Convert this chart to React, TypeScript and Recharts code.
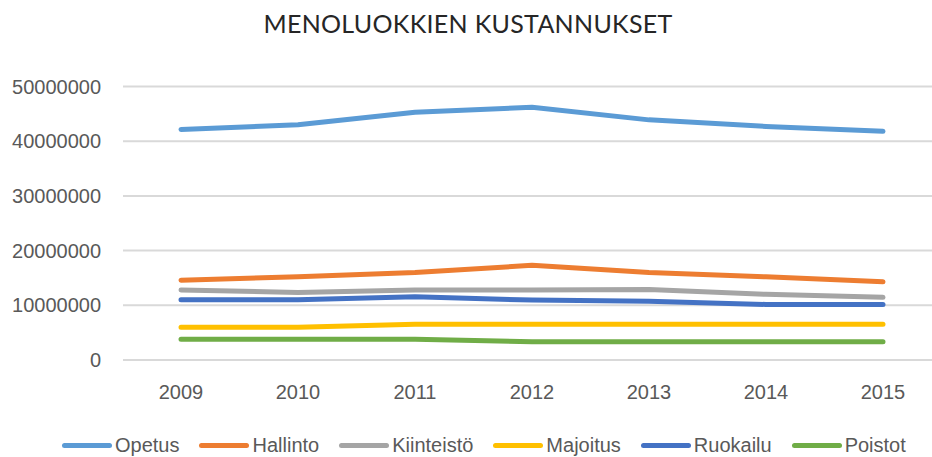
import React from 'react';
import { LineChart, Line, XAxis, YAxis, CartesianGrid, Legend } from 'recharts';

// vuodet ja sarjat luettu kuvasta
const years = ['2009', '2010', '2011', '2012', '2013', '2014', '2015'];
const opetus = [42150000, 43000000, 45300000, 46200000, 43900000, 42700000, 41800000];
const hallinto = [14600000, 15200000, 16000000, 17300000, 16000000, 15200000, 14300000];
const kiinteisto = [12800000, 12350000, 12800000, 12800000, 12900000, 12000000, 11450000];
const majoitus = [6000000, 6000000, 6550000, 6550000, 6550000, 6550000, 6550000];
const ruokailu = [11000000, 11000000, 11550000, 10950000, 10750000, 10150000, 10150000];
const poistot = [3800000, 3800000, 3800000, 3350000, 3350000, 3350000, 3350000];
const yTicks = [0, 10000000, 20000000, 30000000, 40000000, 50000000];

const series = [
  { key: 'Opetus', values: opetus, color: '#5B9BD5' },
  { key: 'Hallinto', values: hallinto, color: '#ED7D31' },
  { key: 'Kiinteistö', values: kiinteisto, color: '#A5A5A5' },
  { key: 'Majoitus', values: majoitus, color: '#FFC000' },
  { key: 'Ruokailu', values: ruokailu, color: '#4472C4' },
  { key: 'Poistot', values: poistot, color: '#70AD47' },
];

const data = years.map((year, i) => {
  const row: any = { year };
  series.forEach((s) => {
    row[s.key] = s.values[i];
  });
  return row;
});

const FONT = '"Liberation Sans", Arial, sans-serif';

// legenda: viiva + teksti, Excel-tyyliin
const LegendContent = () => (
  <div style={{ display: 'flex', alignItems: 'center', height: 24, paddingLeft: 62, fontFamily: FONT, fontSize: 20, color: '#595959' }}>
    {series.map((s) => (
      <div key={s.key} style={{ display: 'flex', alignItems: 'center', marginRight: 20 }}>
        <span style={{ display: 'inline-block', width: 50, height: 5, borderRadius: 3, background: s.color, marginRight: 3 }} />
        <span>{s.key}</span>
      </div>
    ))}
  </div>
);

export default function App() {
  return (
    <div style={{ position: 'absolute', left: 0, top: 0, width: 932, height: 457, overflow: 'hidden', background: '#fff' }}>
      <div style={{ position: 'absolute', left: 0, top: 8, width: 936, textAlign: 'center', fontFamily: 'Lato, sans-serif', fontSize: 25, color: '#262626', letterSpacing: 0.3 }}>
        MENOLUOKKIEN KUSTANNUKSET
      </div>
      <LineChart width={950} height={457} data={data} margin={{ top: 86.5, right: 9, left: 0, bottom: 0 }}>
        <CartesianGrid vertical={false} stroke="#d9d9d9" strokeWidth={2} />
        <XAxis
          dataKey="year"
          height={73}
          padding={{ left: 58, right: 58 }}
          axisLine={false}
          tickLine={false}
          tickSize={0}
          tickMargin={25}
          tick={{ fill: '#595959', fontSize: 20, fontFamily: FONT }}
        />
        <YAxis
          width={123}
          domain={[0, 50000000]}
          ticks={yTicks}
          axisLine={false}
          tickLine={false}
          tickSize={0}
          tickMargin={22}
          tick={{ fill: '#595959', fontSize: 20, fontFamily: FONT }}
        />
        <Legend verticalAlign="bottom" content={<LegendContent />} wrapperStyle={{ left: 0, width: 932 }} />
        {series.map((s) => (
          <Line
            key={s.key}
            type="linear"
            dataKey={s.key}
            stroke={s.color}
            strokeWidth={5}
            strokeLinecap="round"
            strokeLinejoin="round"
            dot={false}
            isAnimationActive={false}
          />
        ))}
      </LineChart>
    </div>
  );
}
